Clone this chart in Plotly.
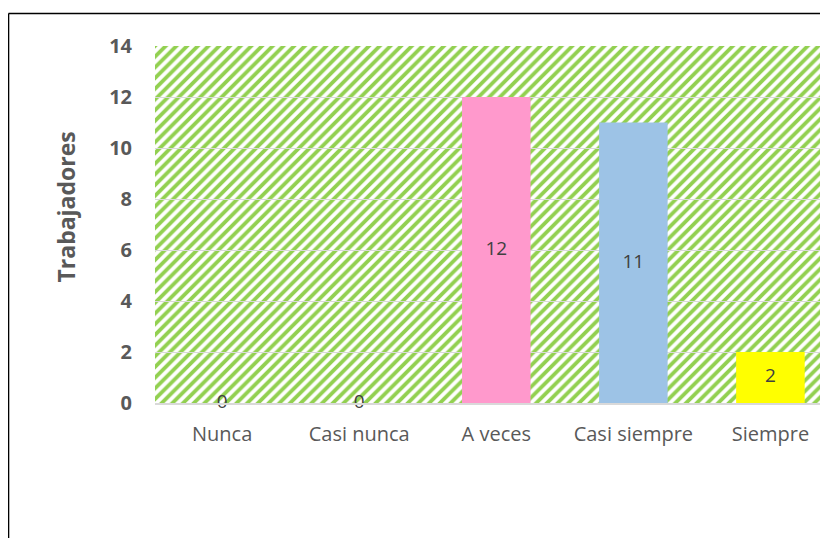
import plotly.graph_objects as go
import urllib.parse

categories = ["Nunca", "Casi nunca", "A veces", "Casi siempre", "Siempre"]
values = [0, 0, 12, 11, 2]
bar_colors = ["#9DC3E6", "#9DC3E6", "#FF99CC", "#9DC3E6", "#FFFF00"]
y_ticks = [0, 2, 4, 6, 8, 10, 12, 14]
y_title = "Trabajadores"

OFF = 8  # default page body margin
W, H = 828 - OFF, 538 - OFF
L, R, T, B = 155 - OFF, 0, 46 - OFF, 135
pw, ph = W - L - R, H - T - B

# striped background (green diagonal hatch) as an SVG image under the grid
P = 10.7
svg = (
    f'<svg xmlns="http://www.w3.org/2000/svg" width="{pw}" height="{ph}">'
    f'<defs><pattern id="p" patternUnits="userSpaceOnUse" width="{P}" height="{P}">'
    f'<rect width="{P}" height="{P}" fill="white"/>'
    f'<path d="M-2,2 L2,-2 M0,{P} L{P},0 M{P-2},{P+2} L{P+2},{P-2}" '
    'stroke="#92D050" stroke-width="3.8"/>'
    '</pattern></defs>'
    f'<rect width="{pw}" height="{ph}" fill="url(#p)"/></svg>'
)
src = "data:image/svg+xml;charset=utf-8," + urllib.parse.quote(svg)

fig = go.Figure()
fig.add_trace(go.Bar(
    x=categories, y=values, width=0.5,
    marker=dict(color=bar_colors, line=dict(width=0)),
    hoverinfo="x+y", showlegend=False,
))
fig.add_trace(go.Scatter(
    x=categories, y=[v / 2 for v in values], mode="text",
    text=[str(v) for v in values], textposition="middle center",
    textfont=dict(family="Open Sans", size=19, color="#404040"),
    cliponaxis=False, showlegend=False, hoverinfo="skip",
))

fig.update_layout(
    width=W, height=H,
    margin=dict(l=L, r=R, t=T, b=B, autoexpand=False),
    paper_bgcolor="white", plot_bgcolor="rgba(0,0,0,0)",
    images=[dict(source=src, xref="paper", yref="paper", x=0, y=1,
                 sizex=1, sizey=1, xanchor="left", yanchor="top",
                 sizing="stretch", layer="below")],
    xaxis=dict(
        type="category", range=[-0.49, 4.42],
        showgrid=False, showline=True, linecolor="#D9D9D9", linewidth=1.5,
        ticks="", ticklabelstandoff=12,
        tickfont=dict(family="Open Sans", size=20, color="#595959"),
    ),
    yaxis=dict(
        range=[0, 14], tickvals=y_ticks,
        showgrid=True, gridcolor="#D9D9D9", gridwidth=1.3,
        zeroline=False, showline=False, ticks="", ticklabelstandoff=22,
        tickfont=dict(family="Open Sans", size=20, color="#595959", weight="bold"),
    ),
    annotations=[dict(
        text=y_title, textangle=-90, xref="paper", yref="paper",
        x=(66 - OFF - L) / pw, y=(403 - 207.5) / ph, showarrow=False,
        xanchor="center", yanchor="middle",
        font=dict(family="Open Sans", size=23, color="#595959", weight="bold"),
    )],
    shapes=[
        dict(type="line", xref="paper", yref="paper",
             x0=(8.5 - 155) / pw, x1=1.1, y0=(403 - 13.5) / ph, y1=(403 - 13.5) / ph,
             line=dict(color="black", width=1.6)),
        dict(type="line", xref="paper", yref="paper",
             x0=(8.5 - 155) / pw, x1=(8.5 - 155) / pw, y0=(403 - 13.5) / ph, y1=-0.5,
             line=dict(color="black", width=1.6)),
    ],
)

fig.write_html("out.html")
